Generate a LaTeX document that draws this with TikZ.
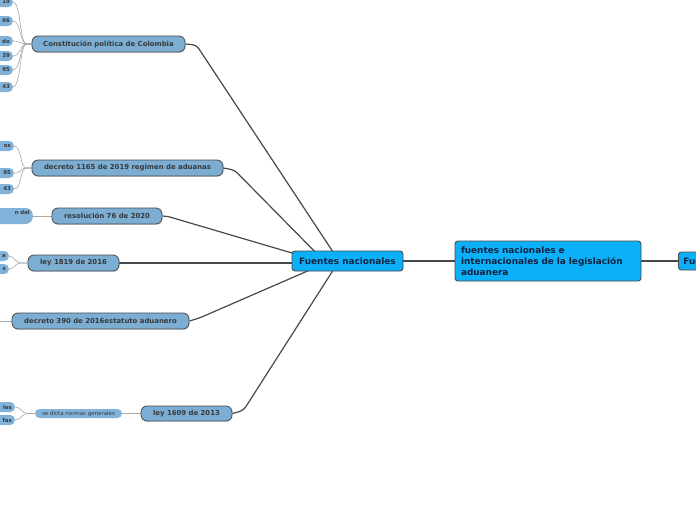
\documentclass[tikz,border=0pt]{standalone}
\usepackage{fontspec}
\setmainfont{DejaVu Sans}
\usepackage{xcolor}
\usepackage{tikz}
\usetikzlibrary{positioning, backgrounds, shadows, calc}

\definecolor{cyanbox}{RGB}{12,176,248}
\definecolor{navytext}{RGB}{16,34,64}
\definecolor{steelbox}{RGB}{124,174,212}
\definecolor{leafbox}{RGB}{128,178,218}
\definecolor{linkgray}{RGB}{72,72,72}
\definecolor{twiggray}{RGB}{168,168,168}
\newcommand{\cutleft}[1]{\makebox[28pt][r]{#1}}

\begin{document}
\begin{tikzpicture}[x=1pt, y=-1pt,
    mainbox/.style={rectangle, rounded corners=3pt, draw=linkgray, line width=0.9pt, fill=cyanbox, text=navytext, font=\bfseries\fontsize{8.9}{11}\selectfont, inner sep=0pt},
    topicbox/.style={rectangle, rounded corners=6pt, draw=linkgray, line width=0.8pt, fill=steelbox, text=black!78, font=\bfseries\fontsize{6.9}{8}\selectfont, minimum height=16pt, inner sep=0pt, drop shadow={shadow xshift=0.7pt, shadow yshift=-0.9pt, opacity=0.25}},
    leaf/.style={rectangle, rounded corners=4.5pt, fill=leafbox, text=black!78, font=\bfseries\fontsize{5.4}{6.4}\selectfont, minimum height=10pt, inner xsep=3pt, inner ysep=0pt, anchor=east},
    link/.style={draw=linkgray, line width=1.2pt, rounded corners=4pt},
    twig/.style={draw=twiggray, line width=0.6pt}
]
\useasboundingbox (0,0) rectangle (696,520);
\clip (0,0) rectangle (696,520);

% centre and first level
\node[mainbox, minimum width=186pt, minimum height=40pt, text width=174pt, align=left] (root) at (548,261) {fuentes nacionales e\\internacionales de la legislación\\aduanera};
\node[mainbox, minimum width=111pt, minimum height=20pt] (fn) at (347.5,261) {Fuentes nacionales};
\node[mainbox, minimum width=120pt, minimum height=18pt, anchor=west, inner xsep=5pt, align=left] (fi) at (678,261) {Fuentes internacionales};
\coordinate (hubL) at (326,263);
\coordinate (hubR) at (339,261);

% second level
\node[topicbox, minimum width=153pt] (cpc) at (108.5,44) {Constitución política de Colombia};
\node[topicbox, minimum width=191pt] (dec1165) at (127.5,168) {decreto 1165 de 2019 regimen de aduanas};
\node[topicbox, minimum width=110pt] (res76) at (107,216) {resolución 76 de 2020};
\node[topicbox, minimum width=91pt] (ley1819) at (73.5,263) {ley 1819 de 2016};
\node[topicbox, minimum width=177pt] (dec390) at (100.5,321) {decreto 390 de 2016estatuto aduanero};
\node[topicbox, minimum width=91pt, minimum height=15pt] (ley1609) at (186.5,413.5) {ley 1609 de 2013};

% third level
\foreach \y/\t [count=\i] in {2/19, 21/66, 41/do, 56/39, 70/95, 87/43}
    \node[leaf] (cpc\i) at (13,\y) {\cutleft{\t}};
\foreach \y/\t [count=\i] in {146/os, 173/95, 189/43}
    \node[leaf] (dec1165\i) at (14,\y) {\cutleft{\t}};
\node[leaf, minimum height=16pt, text width=36pt, align=right, rounded corners=7pt] (res76a) at (33,216) {n del\\[1pt]\mbox{}};
\foreach \y/\t [count=\i] in {256/a, 269/s}
    \node[leaf] (ley1819\i) at (9,\y) {\cutleft{\t}};
\coordinate (dec390a) at (-20,321);
\node[leaf, font=\fontsize{5.5}{6.5}\selectfont, minimum width=87pt, minimum height=9pt, anchor=center] (normas) at (78.5,413.5) {se dicta normas generales};
\foreach \y/\t [count=\i] in {407/les, 420/fas}
    \node[leaf] (normas\i) at (15,\y) {\cutleft{\t}};

\begin{scope}[on background layer]
\draw[link] (fn.east) -- (root.west);
\draw[link] (root.east) -- (fi.west);
\draw[link] (cpc.east) -- ++(11,1) -- (hubR);
\draw[link] (dec1165.east) -- ++(11,2) -- (hubL);
\draw[link] (res76.east) -- ++(4,0) -- (hubL);
\draw[link] (ley1819.east) -- (hubL);
\draw[link] (dec390.east) -- ++(10,-3) -- (hubL);
\draw[link] (ley1609.east) -- ++(11,-3) -- (hubR);

\foreach \i in {1,...,6}
    \draw[twig] (cpc.west) -- ++(-5,0) .. controls +(-7,0) and +(8,0) .. (cpc\i.east);
\foreach \i in {1,2,3}
    \draw[twig] (dec1165.west) -- ++(-5,0) .. controls +(-7,0) and +(8,0) .. (dec1165\i.east);
\draw[twig] (res76.west) -- (res76a.east);
\foreach \i in {1,2}
    \draw[twig] (ley1819.west) -- ++(-7,0) .. controls +(-5,0) and +(5,0) .. (ley1819\i.east);
\draw[twig] (dec390.west) -- (dec390a);
\draw[twig] (ley1609.west) -- (normas.east);
\foreach \i in {1,2}
    \draw[twig] (normas.west) -- ++(-7,0) .. controls +(-6,0) and +(6,0) .. (normas\i.east);
\end{scope}

\end{tikzpicture}
\end{document}
